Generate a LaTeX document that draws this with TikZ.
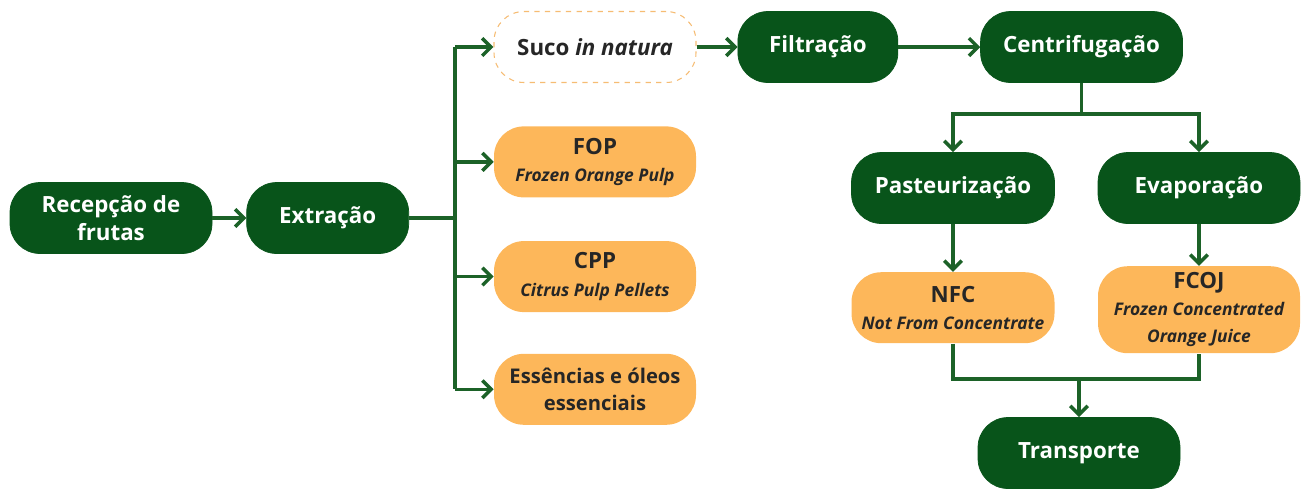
\documentclass[tikz,border=0pt]{standalone}
\usepackage{fontspec}
\setmainfont{Open Sans}
\usetikzlibrary{arrows.meta, positioning}

\definecolor{verdeEsc}{RGB}{8,84,26}
\definecolor{linhaVerde}{RGB}{28,98,40}
\definecolor{laranja}{RGB}{253,183,90}
\definecolor{bordaLar}{RGB}{246,188,115}
\newcommand{\legenda}[1]{{\fontsize{9.9}{13}\selectfont\itshape #1}}

\begin{document}
\begin{tikzpicture}[>={Straight Barb[length=5pt,width=10pt]}, font=\fontsize{12.7}{15.5}\selectfont\bfseries]
	\tikzset{
		etapa/.style={draw=verdeEsc, fill=verdeEsc, text=white, rounded corners=17pt, minimum height=1.42cm, align=center, inner sep=2pt},
		produto/.style={fill=laranja, text=black!85, rounded corners=17pt, minimum width=4.04cm, minimum height=1.42cm, align=center, inner sep=2pt},
		seta/.style={->, draw=linhaVerde, line width=2pt},
		linha/.style={draw=linhaVerde, line width=2pt},
	}
	\useasboundingbox (0,0) rectangle (26.18,-9.8);
	
	% Recepcao e extracao
	\node[etapa, minimum width=4.04cm] (recepcao) at (2.22,-4.36) {Recepção de\\frutas};
	\node[etapa, minimum width=3.24cm, right=0.68cm of recepcao] (extracao) {Extração};
	
	% Produtos da extracao
	\node[produto, fill=white, draw=bordaLar, dashed, semithick] (suco) at (11.9,-0.94) {Suco \textit{in natura}};
	\node[produto, below=0.86cm of suco] (fop) {FOP\\\legenda{Frozen Orange Pulp}};
	\node[produto, below=0.86cm of fop] (cpp) {CPP\\\legenda{Citrus Pulp Pellets}};
	\node[produto, below=0.82cm of cpp, font=\fontsize{11.5}{15}\selectfont\bfseries] (ess) {Essências e óleos\\essenciais};
	
	% Linha do suco
	\node[etapa, minimum width=3.2cm, right=0.82cm of suco] (filtracao) {Filtração};
	\node[etapa, minimum width=4.04cm, right=1.64cm of filtracao] (centrif) {Centrifugação};
	\node[etapa, minimum width=4.06cm] (pasteur) at (19.06,-3.76) {Pasteurização};
	\node[etapa, minimum width=4.04cm] (evap) at (23.98,-3.76) {Evaporação};
	\node[produto, minimum width=4.06cm, below=0.96cm of pasteur] (nfc) {NFC\\\legenda{Not From Concentrate}};
	\node[produto, minimum height=1.74cm, below=0.84cm of evap] (fcoj) {FCOJ\\\legenda{Frozen Concentrated}\\\legenda{Orange Juice}};
	\node[etapa, minimum width=4.04cm] (transp) at (21.58,-9.06) {Transporte};
	
	\coordinate (ramo) at (9.1,-4.36);
	\coordinate (junta) at (transp.center |- 0,-7.58);
	
	% Conexoes
	\draw[seta] (recepcao) -- (extracao);
	\draw[linha] (extracao) -- (ramo);
	\draw[linha] (ramo |- suco) -- (ramo |- ess);
	\foreach \prod in {suco, fop, cpp, ess}
		\draw[seta] (ramo |- \prod) -- (\prod);
	\draw[seta] (suco) -- (filtracao);
	\draw[seta] (filtracao) -- (centrif);
	\draw[seta] (centrif.south) -- ++(0,-0.62) -| (pasteur.north);
	\draw[seta] (centrif.south) -- ++(0,-0.62) -| (evap.north);
	\draw[seta] (pasteur) -- (nfc);
	\draw[seta] (evap) -- (fcoj);
	\draw[linha] (nfc.south) |- (junta) -| (fcoj.south);
	\draw[seta] (junta) -- (transp);
	
\end{tikzpicture}
\end{document}
